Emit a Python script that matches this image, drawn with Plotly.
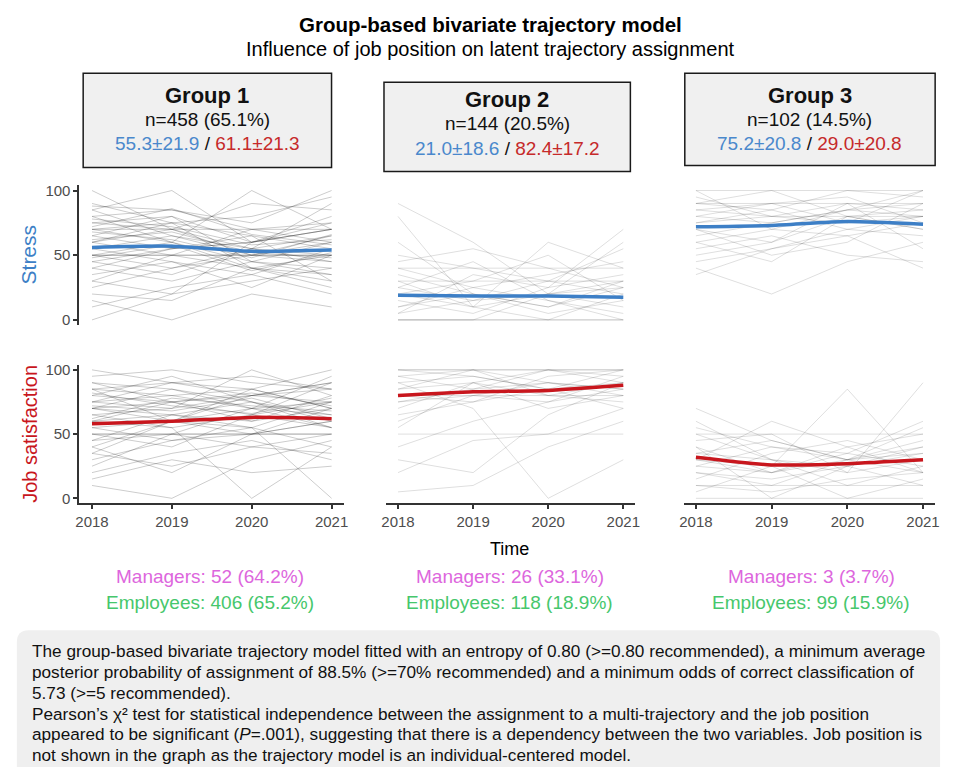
import plotly.graph_objects as go

W, H = 954, 776

years = [2018, 2019, 2020, 2021]

# group mean trajectories (stress / job satisfaction)
g1_stress_mean = [56, 57, 53, 54]
g1_sat_mean = [58, 60, 63, 62]
g2_stress_mean = [19, 18.5, 18.5, 17.5]
g2_sat_mean = [80, 83, 84, 88]
g3_stress_mean = [72, 73, 76, 74]
g3_sat_mean = [32, 26, 27, 30]

# a sample of individual trajectories read from the background
g1_stress = [
    [75, 80, 60, 70], [50, 50, 50, 50], [50, 50, 50, 50], [60, 70, 55, 65], [80, 85, 70, 75],
    [25, 40, 55, 45], [40, 30, 45, 60], [70, 60, 40, 35], [90, 75, 80, 95], [10, 25, 35, 20],
    [55, 65, 50, 45], [65, 55, 60, 70], [30, 50, 40, 30], [85, 100, 60, 80], [45, 35, 55, 50],
    [100, 70, 90, 85], [0, 20, 30, 40], [70, 75, 65, 55], [50, 60, 45, 40], [35, 45, 25, 50],
    [60, 50, 70, 60], [20, 15, 40, 25], [75, 70, 50, 65], [55, 45, 35, 55], [80, 60, 100, 70],
    [40, 55, 60, 75], [65, 80, 45, 35], [15, 0, 20, 10], [50, 40, 50, 60], [88, 85, 75, 100],
    [70, 70, 70, 70], [60, 75, 40, 50], [45, 55, 65, 30], [85, 65, 55, 90], [30, 20, 60, 70],
    [78, 72, 58, 62], [62, 68, 52, 48], [72, 86, 66, 58], [48, 58, 38, 52], [68, 62, 48, 66],
]
g1_sat = [
    [50, 50, 50, 50], [50, 50, 50, 50], [75, 80, 85, 70], [60, 55, 65, 75], [85, 90, 80, 90],
    [30, 45, 55, 40], [100, 90, 95, 85], [40, 20, 50, 60], [70, 65, 75, 55], [65, 70, 100, 80],
    [20, 35, 45, 30], [55, 60, 70, 65], [80, 75, 60, 70], [45, 50, 40, 35], [90, 85, 70, 95],
    [10, 0, 30, 45], [70, 85, 75, 60], [35, 25, 40, 50], [60, 75, 80, 90], [85, 60, 55, 75],
    [50, 40, 65, 55], [75, 90, 85, 100], [25, 50, 70, 55], [65, 55, 0, 40], [45, 65, 60, 80],
    [80, 95, 75, 65], [55, 45, 50, 60], [15, 30, 20, 25], [70, 60, 80, 75], [95, 100, 90, 85],
    [75, 70, 80, 85], [60, 65, 55, 0], [85, 80, 70, 75], [40, 60, 85, 70], [70, 75, 65, 90],
    [72, 68, 78, 62], [82, 72, 66, 78], [62, 78, 72, 68], [35, 60, 50, 70], [90, 75, 82, 72],
]
g2_stress = [
    [0, 0, 0, 0], [0, 0, 0, 0], [30, 10, 20, 25], [10, 25, 15, 5], [40, 25, 35, 45],
    [60, 20, 10, 30], [5, 15, 30, 20], [25, 45, 15, 0], [20, 30, 50, 15], [0, 0, 20, 10],
    [35, 20, 10, 25], [50, 40, 30, 55], [15, 5, 25, 35], [45, 55, 40, 25], [10, 20, 5, 15],
    [90, 60, 20, 30], [30, 30, 30, 30], [20, 10, 60, 40], [5, 35, 25, 70], [40, 40, 40, 40],
    [80, 10, 0, 20], [25, 15, 20, 60],
]
g2_sat = [
    [100, 100, 100, 100], [100, 100, 100, 100], [90, 95, 85, 100], [75, 80, 90, 85], [50, 50, 50, 50],
    [85, 100, 80, 90], [60, 80, 75, 95], [95, 85, 90, 80], [70, 90, 100, 95], [5, 10, 40, 60],
    [80, 75, 85, 90], [90, 70, 0, 30], [40, 60, 75, 85], [100, 95, 85, 70], [65, 75, 95, 100],
    [85, 90, 80, 75], [30, 20, 65, 90], [75, 85, 100, 90], [95, 100, 90, 85], [55, 90, 70, 80],
    [20, 45, 50, 70], [80, 80, 80, 80],
]
g3_stress = [
    [100, 100, 100, 100], [90, 85, 100, 95], [80, 75, 85, 80], [60, 70, 65, 75], [85, 90, 75, 80],
    [50, 60, 80, 70], [70, 50, 60, 90], [95, 80, 90, 85], [40, 20, 45, 60], [75, 85, 70, 65],
    [65, 75, 85, 100], [90, 100, 80, 70], [55, 65, 50, 45], [80, 90, 95, 75], [100, 70, 85, 90],
    [45, 55, 70, 80], [85, 80, 75, 100], [70, 60, 90, 55], [75, 80, 80, 80], [35, 55, 65, 40],
    [90, 90, 90, 90], [60, 45, 80, 85],
]
g3_sat = [
    [0, 0, 0, 0], [30, 20, 35, 25], [50, 30, 25, 40], [20, 10, 30, 45], [45, 50, 20, 30],
    [10, 5, 15, 20], [35, 45, 30, 20], [60, 30, 10, 25], [25, 20, 40, 50], [40, 0, 25, 35],
    [15, 35, 45, 30], [30, 25, 0, 15], [55, 40, 35, 60], [20, 15, 25, 10], [70, 45, 30, 40],
    [5, 25, 85, 20], [35, 30, 20, 90], [25, 40, 30, 35], [50, 50, 50, 50], [40, 20, 30, 55],
    [10, 10, 10, 10], [30, 60, 40, 20],
]

group_titles = ["Group 1", "Group 2", "Group 3"]
group_n = ["n=458 (65.1%)", "n=144 (20.5%)", "n=102 (14.5%)"]
stress_stats = ["55.3±21.9", "21.0±18.6", "75.2±20.8"]
sat_stats = ["61.1±21.3", "82.4±17.2", "29.0±20.8"]
managers = ["Managers: 52 (64.2%)", "Managers: 26 (33.1%)", "Managers: 3 (3.7%)"]
employees = ["Employees: 406 (65.2%)", "Employees: 118 (18.9%)", "Employees: 99 (15.9%)"]

footnote = [
    "The group-based bivariate trajectory model fitted with an entropy of 0.80 (>=0.80 recommended), a minimum average",
    "posterior probability of assignment of 88.5% (>=70% recommended) and a minimum odds of correct classification of",
    "5.73 (>=5 recommended).",
    "Pearson’s χ² test for statistical independence between the assignment to a multi-trajectory and the job position",
    "appeared to be significant (<i>P</i>=.001), suggesting that there is a dependency between the two variables. Job position is",
    "not shown in the graph as the trajectory model is an individual-centered model.",
]

BLUE = "#3d7fc6"
RED = "#c8161d"
TXT_BLUE = "#4a88cc"
TXT_RED = "#c62a2a"
PINK = "#dd66dd"
GREEN = "#46c76c"
AX = "#333333"
FONT = "Liberation Sans, Arial, sans-serif"


def px(x):
    return x / W


def py(y):
    return 1 - y / H


# pixel extents of each panel
col_px = [(75, 343), (385, 637), (686, 940)]
row_px = [(183, 324), (364, 504)]

panels = [
    (g1_stress, g1_stress_mean, BLUE, 0.2), (g2_stress, g2_stress_mean, BLUE, 0.13),
    (g3_stress, g3_stress_mean, BLUE, 0.13),
    (g1_sat, g1_sat_mean, RED, 0.2), (g2_sat, g2_sat_mean, RED, 0.13),
    (g3_sat, g3_sat_mean, RED, 0.13),
]

fig = go.Figure()
layout_axes = {}
for i, (indiv, mean, col, alpha) in enumerate(panels):
    r, c = divmod(i, 3)
    k = i + 1
    xa = "x" if k == 1 else f"x{k}"
    ya = "y" if k == 1 else f"y{k}"
    for traj in indiv:
        fig.add_trace(go.Scatter(x=years, y=traj, mode="lines", xaxis=xa, yaxis=ya,
                                 line=dict(color=f"rgba(0,0,0,{alpha})", width=1),
                                 hoverinfo="skip", showlegend=False))
    fig.add_trace(go.Scatter(x=years, y=mean, mode="lines", xaxis=xa, yaxis=ya,
                             line=dict(color=col, width=3.5, shape="spline", smoothing=0.6),
                             showlegend=False))

    x0, x1 = col_px[c]
    y0, y1 = row_px[r]
    xkey = "xaxis" if k == 1 else f"xaxis{k}"
    ykey = "yaxis" if k == 1 else f"yaxis{k}"
    xaxis = dict(domain=[px(x0), px(x1)], range=[2017.84, 2021.16], anchor=ya,
                 showgrid=False, zeroline=False, fixedrange=True)
    if r == 1:
        xaxis.update(showline=True, linecolor=AX, linewidth=1.5, ticks="outside",
                     ticklen=4, tickcolor=AX, tickwidth=1.5, tickvals=years,
                     tickfont=dict(size=15, color="#4d4d4d"))
    else:
        xaxis.update(visible=False)
    yaxis = dict(domain=[py(y1), py(y0)], range=[-4, 104], anchor=xa,
                 showgrid=False, zeroline=False, fixedrange=True)
    if c == 0:
        yaxis.update(showline=True, linecolor=AX, linewidth=1.5, ticks="outside",
                     ticklen=4, tickcolor=AX, tickwidth=1.5, tickvals=[0, 50, 100],
                     tickfont=dict(size=15, color="#4d4d4d"))
    else:
        yaxis.update(visible=False)
    layout_axes[xkey] = xaxis
    layout_axes[ykey] = yaxis

fig.update_layout(**layout_axes)

shapes = []
ann = []

# titles
ann.append(dict(x=px(491), y=py(21), text="<b>Group-based bivariate trajectory model</b>",
                font=dict(size=20.5, color="black")))
ann.append(dict(x=px(491), y=py(45), text="Influence of job position on latent trajectory assignment",
                font=dict(size=20, color="black")))

# group header boxes
box_px = [(79, 330, 70, 165), (383, 632, 79, 169), (687, 940, 70, 163)]
text_y = [(92, 117, 141), (96, 121, 146), (92, 117, 141)]
for g in range(3):
    bx0, bx1, by0, by1 = box_px[g]
    shapes.append(dict(type="rect", xref="paper", yref="paper",
                       x0=px(bx0), x1=px(bx1), y0=py(by1), y1=py(by0),
                       fillcolor="#f0f0f0", line=dict(color="#1a1a1a", width=1.5), layer="below"))
    cx = (bx0 + bx1) / 2
    ty = text_y[g]
    ann.append(dict(x=px(cx), y=py(ty[0]), text=f"<b>{group_titles[g]}</b>",
                    font=dict(size=22, color="#111111")))
    ann.append(dict(x=px(cx), y=py(ty[1]), text=group_n[g],
                    font=dict(size=19, color="#111111")))
    ann.append(dict(x=px(cx), y=py(ty[2]),
                    text=f"<span style='color:{TXT_BLUE}'>{stress_stats[g]}</span> / "
                         f"<span style='color:{TXT_RED}'>{sat_stats[g]}</span>",
                    font=dict(size=19, color="#111111")))

# row titles
ann.append(dict(x=px(24), y=py(253), text="Stress", textangle=-90,
                font=dict(size=21, color=BLUE)))
ann.append(dict(x=px(25), y=py(434), text="Job satisfaction", textangle=-90,
                font=dict(size=20, color=RED)))

# x title and job position counts
ann.append(dict(x=px(510), y=py(550), text="Time", font=dict(size=18, color="black")))
for g, cx in enumerate([207, 510, 815]):
    ann.append(dict(x=px(cx), y=py(578), text=managers[g], font=dict(size=19, color=PINK)))
    ann.append(dict(x=px(cx), y=py(604), text=employees[g], font=dict(size=19, color=GREEN)))

# footnote box
shapes.append(dict(type="path", xref="paper", yref="paper", layer="below",
                   path=f"M {px(24)},{py(632)} L {px(933)},{py(632)} Q {px(945)},{py(632)} {px(945)},{py(644)} "
                        f"L {px(945)},{py(770)} L {px(12)},{py(770)} L {px(12)},{py(644)} "
                        f"Q {px(12)},{py(632)} {px(24)},{py(632)} Z",
                   fillcolor="#efefef", line=dict(width=0)))
for j, line in enumerate(footnote):
    ann.append(dict(x=px(25), y=py(653 + 21 * j), text=line, xanchor="left",
                    font=dict(size=17.2, color="#111111")))

for a in ann:
    a.setdefault("xref", "paper")
    a.setdefault("yref", "paper")
    a.setdefault("showarrow", False)
    a.setdefault("xanchor", "center")
    a.setdefault("yanchor", "middle")

fig.update_layout(
    width=W, height=H,
    margin=dict(l=0, r=0, t=0, b=0),
    paper_bgcolor="white", plot_bgcolor="white",
    font=dict(family=FONT),
    shapes=shapes, annotations=ann,
    hovermode=False,
)

# drop the default page margin so figure pixels line up with the window
fig.write_html("out.html", config={"displayModeBar": False},
               post_script="document.body.style.margin='0';document.body.style.overflow='hidden';")
